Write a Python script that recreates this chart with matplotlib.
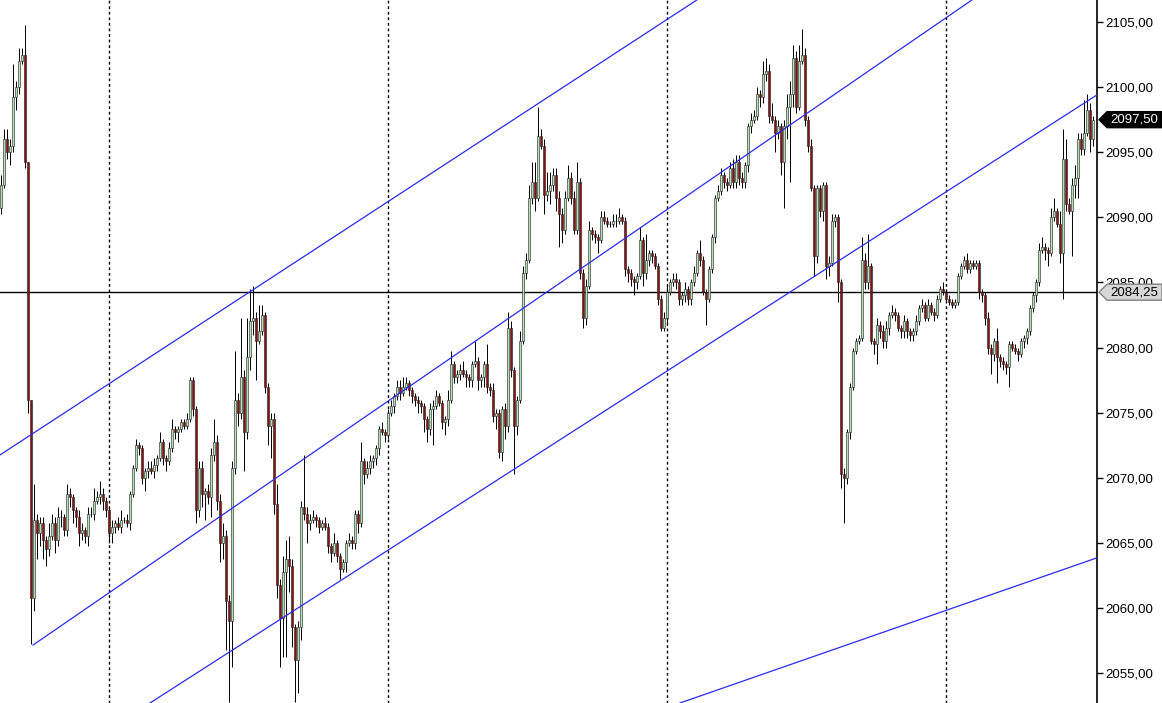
import matplotlib.pyplot as plt
import numpy as np
from matplotlib.patches import Polygon
from matplotlib.transforms import IdentityTransform

# price data, one candle per bar; open = previous close
first_open = 2090.75
closes = [
    2092.5, 2096.0, 2095.0, 2095.5, 2099.25, 2100.0, 2102.0, 2102.5, 2094.25, 2076.0,
    2060.75, 2066.75, 2065.75, 2066.5, 2065.25, 2064.5, 2065.5, 2066.5, 2065.25, 2067.0,
    2067.0, 2066.0, 2068.75, 2068.5, 2067.5, 2067.0, 2065.75, 2066.0, 2065.5, 2067.25,
    2067.25, 2068.25, 2068.5, 2068.75, 2068.25, 2067.5, 2065.75, 2066.25, 2066.5, 2066.25,
    2066.75, 2066.75, 2066.5, 2068.75, 2070.75, 2072.5, 2072.25, 2070.0, 2070.5, 2070.75,
    2070.5, 2071.0, 2071.5, 2072.75, 2071.5, 2071.25, 2072.25, 2073.75, 2073.5, 2073.75,
    2074.25, 2074.0, 2074.5, 2077.5, 2075.25, 2067.5, 2070.75, 2068.75, 2069.0, 2068.5,
    2071.75, 2072.75, 2068.25, 2065.0, 2065.5, 2060.5, 2059.0, 2070.75, 2076.0, 2075.0,
    2077.75, 2073.5, 2079.25, 2082.0, 2082.25, 2080.5, 2081.25, 2082.5, 2077.0, 2074.0,
    2074.5, 2068.0, 2061.75, 2059.25, 2062.75, 2063.75, 2063.25, 2058.5, 2056.0, 2058.5,
    2067.75, 2067.25, 2066.5, 2066.75, 2067.0, 2066.75, 2066.25, 2066.5, 2066.25, 2064.75,
    2064.25, 2065.0, 2064.0, 2063.0, 2063.5, 2065.0, 2065.25, 2065.0, 2067.25, 2066.5,
    2071.25, 2070.25, 2070.75, 2071.25, 2071.5, 2072.25, 2073.75, 2073.5, 2073.25, 2075.0,
    2075.5, 2076.25, 2077.0, 2076.5, 2077.0, 2077.25, 2076.75, 2076.25, 2076.0, 2075.75,
    2075.5, 2074.5, 2073.75, 2075.25, 2075.5, 2076.25, 2075.75, 2074.25, 2074.5, 2076.0,
    2078.75, 2077.75, 2078.0, 2078.25, 2078.0, 2077.75, 2077.5, 2078.75, 2079.0, 2077.5,
    2077.75, 2078.75, 2077.0, 2076.75, 2074.75, 2075.0, 2072.0, 2075.25, 2074.0, 2081.5,
    2078.25, 2074.0, 2076.0, 2080.5, 2085.75, 2086.75, 2091.5, 2092.75, 2091.5, 2096.25,
    2095.5, 2091.75, 2092.0, 2092.5, 2093.25, 2091.5, 2090.25, 2089.0, 2091.5, 2093.0,
    2091.5, 2089.0, 2092.75, 2085.75, 2082.25, 2084.75, 2089.0, 2088.75, 2088.5, 2088.25,
    2090.0, 2089.75, 2089.5, 2089.5, 2089.75, 2089.75, 2090.0, 2089.75, 2086.0, 2085.75,
    2085.25, 2085.0, 2085.5, 2088.25, 2085.75, 2086.75, 2087.25, 2087.0, 2086.25, 2083.75,
    2081.5, 2082.25, 2084.25, 2085.0, 2085.25, 2085.0, 2083.75, 2084.0, 2084.5, 2083.75,
    2085.0, 2085.75, 2087.25, 2086.75, 2084.25, 2083.75, 2086.0, 2088.5, 2091.5, 2092.0,
    2093.25, 2092.75, 2092.5, 2093.75, 2092.75, 2094.25, 2093.0, 2092.75, 2094.0, 2097.0,
    2097.5, 2097.75, 2099.5, 2099.25, 2101.0, 2101.25, 2097.75, 2097.5, 2096.5, 2097.0,
    2094.25, 2097.0, 2098.5, 2099.5, 2102.25, 2098.5, 2102.0, 2102.5, 2097.5, 2095.5,
    2092.25, 2087.0, 2092.25, 2090.5, 2092.5, 2086.25, 2086.5, 2089.75, 2090.0, 2085.0,
    2070.25, 2070.0, 2073.5, 2077.0, 2079.75, 2080.5, 2080.75, 2086.75, 2085.0, 2086.25,
    2080.5, 2080.25, 2081.75, 2081.25, 2080.5, 2081.5, 2082.5, 2082.75, 2082.5, 2081.5,
    2081.25, 2082.0, 2081.25, 2081.0, 2081.25, 2082.0, 2083.0, 2083.25, 2082.25, 2083.25,
    2082.75, 2082.5, 2083.75, 2084.5, 2084.25, 2083.75, 2083.5, 2083.25, 2083.5, 2085.5,
    2086.25, 2086.75, 2086.0, 2086.5, 2086.25, 2086.5, 2084.25, 2084.0, 2082.25, 2080.0,
    2079.5, 2080.5, 2079.25, 2079.0, 2078.75, 2078.5, 2080.25, 2080.0, 2079.75, 2079.5,
    2080.5, 2080.75, 2081.25, 2083.0, 2084.0, 2085.0, 2087.5, 2087.75, 2087.5, 2087.25,
    2090.0, 2090.5, 2089.5, 2087.25, 2094.5, 2091.0, 2090.5, 2092.5, 2093.0, 2096.0,
    2095.25, 2096.5, 2098.25, 2096.0, 2097.5,
]

# wick length above / below the body, in points
wick_up = [
    0.75, 0.75, 0.75, 0.5, 2.5, 0.5, 1.0, 0.5, 2.25, 0.0,
    0.0, 2.75, 0.5, 0.5, 0.5, 0.25, 1.0, 0.75, 0.5, 0.75,
    0.5, 0.25, 0.75, 0.5, 0.25, 0.25, 0.5, 0.5, 0.25, 0.5,
    0.5, 1.0, 0.5, 1.0, 0.5, 0.25, 0.25, 0.5, 0.25, 0.5,
    0.75, 0.25, 0.5, 0.25, 0.25, 0.5, 0.25, 0.25, 0.25, 0.5,
    0.5, 0.5, 0.25, 0.75, 0.25, 0.25, 0.5, 0.75, 0.25, 0.25,
    0.25, 0.25, 0.5, 0.25, 0.25, 0.25, 0.5, 0.5, 0.25, 0.5,
    0.5, 1.75, 0.5, 0.5, 1.0, 0.5, 0.5, 0.5, 3.75, 0.5,
    4.5, 0.5, 3.0, 2.5, 2.5, 0.5, 2.0, 0.75, 0.25, 0.25,
    0.5, 0.5, 1.5, 0.5, 1.25, 1.5, 1.75, 0.5, 0.25, 0.5,
    0.5, 4.0, 0.5, 0.5, 0.5, 0.25, 0.25, 0.25, 0.5, 0.25,
    0.25, 0.75, 0.25, 0.25, 0.25, 0.25, 0.5, 0.25, 0.25, 0.25,
    1.5, 0.25, 0.5, 0.5, 0.25, 0.25, 0.25, 0.5, 0.25, 0.25,
    0.5, 0.25, 0.5, 0.5, 0.75, 0.5, 0.25, 0.25, 0.25, 0.25,
    0.25, 0.25, 0.25, 0.5, 0.5, 0.5, 0.25, 0.25, 0.25, 0.75,
    1.0, 0.25, 0.25, 0.5, 0.75, 0.25, 0.25, 0.25, 1.5, 0.25,
    0.25, 0.25, 1.5, 0.25, 0.5, 0.25, 0.25, 0.25, 0.5, 1.25,
    0.5, 0.25, 0.25, 0.75, 0.5, 0.5, 1.0, 1.5, 1.5, 2.25,
    0.5, 0.5, 1.5, 1.0, 0.5, 0.5, 0.5, 0.5, 0.5, 1.0,
    0.5, 0.5, 1.5, 0.25, 0.25, 0.5, 0.75, 0.25, 0.25, 0.25,
    0.5, 0.5, 0.25, 0.25, 0.5, 0.5, 0.75, 0.25, 0.25, 0.25,
    0.25, 0.25, 0.25, 1.0, 0.25, 2.0, 0.25, 0.25, 0.25, 0.25,
    0.25, 0.5, 0.5, 0.25, 0.5, 0.5, 0.25, 0.25, 0.5, 0.25,
    0.25, 0.5, 0.25, 1.0, 0.25, 0.25, 0.25, 0.25, 0.25, 0.5,
    0.5, 0.25, 0.25, 0.5, 0.75, 0.5, 0.5, 0.5, 0.25, 0.25,
    0.5, 0.5, 0.5, 0.25, 1.0, 1.0, 0.5, 1.0, 0.25, 0.5,
    0.25, 0.5, 1.0, 1.0, 1.0, 0.5, 1.25, 2.0, 0.5, 0.25,
    0.5, 0.25, 0.25, 0.25, 0.25, 0.25, 0.5, 0.5, 0.25, 0.25,
    0.25, 0.5, 0.25, 0.25, 0.25, 0.25, 0.25, 1.75, 0.5, 2.5,
    0.25, 0.25, 0.5, 0.25, 0.5, 0.5, 0.25, 0.5, 0.25, 0.25,
    0.25, 0.5, 0.25, 0.25, 0.25, 0.5, 0.25, 0.5, 0.25, 0.5,
    0.25, 0.25, 0.25, 0.25, 0.5, 0.25, 0.25, 0.25, 0.25, 0.25,
    0.25, 0.25, 0.5, 0.25, 0.25, 0.25, 0.25, 0.25, 0.25, 0.5,
    0.25, 0.25, 1.0, 0.25, 0.25, 0.25, 0.25, 0.25, 0.25, 0.25,
    0.25, 0.25, 0.25, 0.25, 0.25, 0.25, 0.5, 0.75, 0.25, 0.25,
    0.75, 1.0, 0.25, 1.0, 2.25, 1.5, 0.5, 0.5, 1.0, 0.5,
    0.5, 2.5, 1.25, 0.5, 0.25,
]
wick_dn = [
    0.5, 0.25, 0.5, 1.0, 0.5, 1.0, 0.5, 0.25, 0.5, 1.0,
    3.5, 1.0, 2.0, 1.0, 1.5, 1.25, 0.5, 0.25, 1.0, 0.5,
    0.75, 0.5, 0.5, 0.75, 1.0, 0.75, 1.0, 0.5, 0.5, 0.75,
    0.25, 0.5, 0.25, 0.5, 0.75, 0.5, 0.75, 0.75, 0.5, 0.25,
    0.5, 0.25, 0.25, 0.5, 0.25, 0.25, 0.5, 0.5, 1.0, 0.5,
    0.25, 0.5, 0.5, 0.25, 0.5, 0.75, 0.25, 0.25, 0.5, 0.75,
    0.25, 0.25, 0.25, 0.25, 0.5, 1.0, 0.5, 1.0, 2.0, 0.5,
    1.5, 0.5, 0.75, 1.5, 1.25, 3.75, 6.25, 3.5, 0.5, 1.0,
    0.5, 3.0, 0.5, 1.0, 1.0, 3.0, 0.25, 0.25, 0.5, 1.5,
    2.5, 0.75, 1.0, 3.75, 3.0, 6.5, 2.0, 1.5, 3.25, 2.5,
    1.0, 0.5, 1.5, 0.5, 0.25, 0.5, 0.5, 0.25, 0.25, 0.5,
    0.75, 0.25, 0.5, 0.75, 0.25, 0.75, 0.25, 0.5, 0.5, 0.75,
    0.25, 0.75, 0.25, 0.5, 0.5, 0.5, 0.5, 0.25, 0.5, 0.25,
    0.25, 0.5, 0.25, 0.5, 0.25, 0.25, 0.5, 0.5, 0.5, 0.75,
    0.5, 1.0, 1.0, 0.5, 2.75, 0.25, 0.25, 0.5, 1.0, 0.5,
    0.25, 0.5, 0.5, 0.5, 0.25, 0.75, 0.5, 0.5, 0.25, 0.75,
    0.5, 0.75, 0.5, 0.5, 0.5, 1.0, 0.5, 0.75, 1.0, 0.5,
    0.5, 3.75, 0.75, 0.25, 0.25, 0.5, 0.25, 0.5, 1.0, 0.25,
    0.25, 1.5, 0.5, 1.0, 0.5, 1.0, 2.5, 1.0, 0.25, 0.25,
    0.5, 0.25, 0.25, 0.5, 0.75, 0.5, 0.25, 0.5, 0.5, 1.0,
    0.25, 0.25, 0.25, 0.25, 0.25, 0.5, 0.25, 0.25, 0.5, 0.75,
    0.5, 1.0, 0.5, 0.25, 1.0, 0.5, 0.5, 0.5, 0.25, 0.5,
    0.25, 0.25, 0.5, 0.25, 0.25, 0.5, 0.5, 0.5, 0.5, 0.5,
    0.5, 0.25, 0.25, 0.5, 0.25, 2.0, 0.25, 0.25, 0.5, 0.25,
    0.25, 0.5, 0.5, 0.25, 0.5, 0.5, 0.5, 0.5, 0.5, 0.5,
    0.5, 0.25, 0.25, 0.75, 0.5, 0.5, 0.5, 0.25, 1.5, 0.5,
    1.0, 3.5, 1.0, 5.75, 1.0, 0.5, 0.25, 0.25, 0.5, 0.5,
    0.25, 1.5, 0.5, 0.5, 0.75, 1.0, 0.75, 0.25, 0.5, 1.5,
    1.0, 3.5, 0.5, 0.5, 0.25, 0.25, 0.25, 0.25, 0.5, 0.5,
    0.25, 0.75, 1.5, 0.5, 0.5, 0.5, 0.5, 0.25, 0.5, 0.25,
    0.5, 0.5, 0.5, 0.5, 0.5, 0.25, 0.25, 0.25, 0.25, 0.25,
    0.25, 0.5, 0.25, 0.25, 0.25, 0.25, 0.25, 0.25, 0.25, 0.25,
    0.25, 0.25, 0.25, 0.25, 0.25, 0.25, 0.5, 0.5, 0.5, 0.5,
    1.5, 0.5, 2.0, 0.5, 0.5, 0.5, 1.5, 0.25, 0.25, 0.5,
    0.25, 0.5, 0.5, 0.25, 0.25, 0.5, 0.25, 0.25, 0.75, 1.0,
    0.25, 0.25, 0.25, 0.75, 3.5, 0.5, 0.25, 3.5, 1.0, 1.5,
    0.5, 0.5, 0.25, 1.0, 0.5,
]

session_starts = [36, 129, 222, 315]
ref_price = 2084.25
last_price = 2097.50
y_ticks = [2055, 2060, 2065, 2070, 2075, 2080, 2085, 2090, 2095, 2100, 2105]

# drawn trend lines, anchors as (bar index, price)
trend_lines = [
    [(-0.33, 2071.75), (232.0, 2106.7)],
    [(10.67, 2057.15), (323.7, 2106.7)],
    [(49.67, 2052.7), (365.33, 2099.4)],
    [(226.33, 2052.7), (365.33, 2063.85)],
]

W, H = 1162, 703
fig = plt.figure(figsize=(W / 100, H / 100), dpi=100)
ax = fig.add_axes([0, 0, 1097 / W, 1])
ax.set_xlim(-0.333, 365.333)
ax.set_ylim(2052.70, 2106.69)

c = np.array(closes)
o = np.concatenate([[first_open], c[:-1]])
hi = np.maximum(o, c) + np.array(wick_up)
lo = np.minimum(o, c) - np.array(wick_dn)
idx = np.arange(len(c))
rise = c >= o

ax.axhline(ref_price, color='black', lw=1, zorder=1)
for s in session_starts:
    ax.axvline(s, color='black', lw=1, ls=(0, (2, 2)), zorder=1)

ax.vlines(idx, lo, hi, color='black', lw=0.7, zorder=2)
ax.bar(idx[rise], (c - o)[rise], bottom=o[rise], width=0.9,
       color='#b8dfb8', edgecolor='#1a1a1a', linewidth=0.4, zorder=3)
ax.bar(idx[~rise], (c - o)[~rise], bottom=o[~rise], width=0.9,
       color='#8b1010', edgecolor='#1a1a1a', linewidth=0.4, zorder=3)

for (x0, y0), (x1, y1) in trend_lines:
    ax.plot([x0, x1], [y0, y1], color='#2a2aee', lw=0.9, zorder=4)

for side in ['left', 'top', 'bottom']:
    ax.spines[side].set_visible(False)
ax.spines['right'].set_linewidth(1.2)
ax.set_xticks([])
ax.yaxis.tick_right()
ax.set_yticks(y_ticks)
ax.set_yticklabels([f"{v:.2f}".replace('.', ',') for v in y_ticks],
                   fontfamily='Liberation Sans', fontsize=9.5)
ax.tick_params(axis='y', direction='out', length=4, width=1, pad=2)


def price_tag(price, face, edge, text_color):
    yc = ax.transData.transform((0, price))[1]
    x0 = ax.transAxes.transform((1, 0))[0] + 2
    pts = [(x0, yc), (x0 + 8, yc + 8), (W, yc + 8), (W, yc - 8), (x0 + 8, yc - 8)]
    fig.add_artist(Polygon(pts, closed=True, facecolor=face, edgecolor=edge,
                           lw=1, transform=IdentityTransform(), zorder=5))
    fig.text((x0 + 8 + W) / 2 / W, yc / H, f"{price:.2f}".replace('.', ','),
             color=text_color, fontsize=9.5, fontfamily='Liberation Sans',
             ha='center', va='center', zorder=6)


price_tag(ref_price, '#d6d6d6', '#808080', 'black')
price_tag(last_price, 'black', 'black', 'white')

fig.savefig('out.png', dpi=100)
